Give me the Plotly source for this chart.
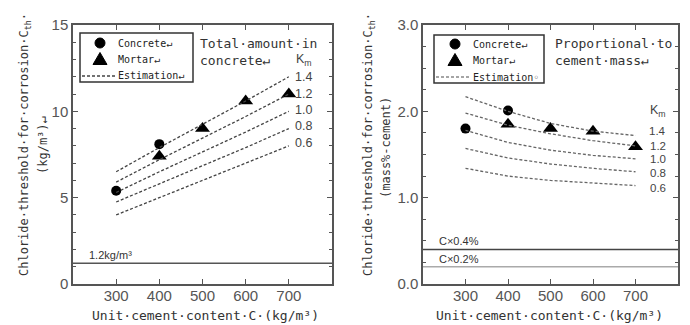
import plotly.graph_objects as go

# ---------------- data ----------------
cement = [300, 400, 500, 600, 700]
km_labels = ["1.4", "1.2", "1.0", "0.8", "0.6"]

# Left panel: total amount in concrete (kg/m3)
conc_x_L = [300, 400]
conc_y_L = [5.4, 8.1]
mort_x_L = [400, 500, 600, 700]
mort_y_L = [7.4, 9.0, 10.6, 11.0]
est_L = {
    "1.4": [6.5, 7.9, 9.25, 10.6, 12.0],
    "1.2": [5.9, 7.2, 8.45, 9.7, 11.0],
    "1.0": [5.3, 6.5, 7.65, 8.8, 10.0],
    "0.8": [4.75, 5.8, 6.85, 7.9, 9.0],
    "0.6": [4.0, 5.0, 6.0, 7.0, 8.0],
}
km_y_L = [12.0, 11.0, 10.08, 9.15, 8.15]

# Right panel: proportional to cement mass (mass%-cement)
conc_x_R = [300, 400]
conc_y_R = [1.80, 2.01]
mort_x_R = [400, 500, 600, 700]
mort_y_R = [1.85, 1.80, 1.77, 1.59]
est_R = {
    "1.4": [2.17, 2.00, 1.86, 1.77, 1.72],
    "1.2": [1.98, 1.84, 1.74, 1.66, 1.60],
    "1.0": [1.78, 1.64, 1.55, 1.49, 1.45],
    "0.8": [1.57, 1.46, 1.39, 1.34, 1.30],
    "0.6": [1.34, 1.25, 1.20, 1.17, 1.14],
}
km_y_R = [1.77, 1.60, 1.45, 1.29, 1.11]

ref_L = 1.2
ref_R_04 = 0.4
ref_R_02 = 0.2

# ---------------- figure ----------------
MONO = "DejaVu Sans Mono"
SANS = "Liberation Sans"
W, H = 690, 325
fig = go.Figure()


def px_x(p):
    return p / W


def px_y(p):
    return 1 - p / H


dom_L = [px_x(73), px_x(332)]
dom_R = [px_x(423), px_x(678)]
dom_Y = [px_y(284), px_y(25)]

# Left traces
fig.add_trace(go.Scatter(x=conc_x_L, y=conc_y_L, mode="markers", name="Concrete",
                         marker=dict(symbol="circle", size=10, color="black"),
                         xaxis="x", yaxis="y", showlegend=False))
fig.add_trace(go.Scatter(x=mort_x_L, y=mort_y_L, mode="markers", name="Mortar",
                         marker=dict(symbol="triangle-up", size=13, color="black"),
                         xaxis="x", yaxis="y", showlegend=False))
for i, k in enumerate(km_labels):
    fig.add_trace(go.Scatter(x=cement, y=est_L[k], mode="lines", name="Estimation Km=" + k,
                             line=dict(color="#444", width=1.3, dash="3px,2px"),
                             showlegend=False, xaxis="x", yaxis="y"))

# Right traces
fig.add_trace(go.Scatter(x=conc_x_R, y=conc_y_R, mode="markers", name="Concrete",
                         marker=dict(symbol="circle", size=10, color="black"),
                         xaxis="x2", yaxis="y2", showlegend=False))
fig.add_trace(go.Scatter(x=mort_x_R, y=mort_y_R, mode="markers", name="Mortar",
                         marker=dict(symbol="triangle-up", size=13, color="black"),
                         xaxis="x2", yaxis="y2", showlegend=False))
for i, k in enumerate(km_labels):
    fig.add_trace(go.Scatter(x=cement, y=est_R[k], mode="lines", name="Estimation Km=" + k,
                             line=dict(color="#666", width=1.3, dash="3px,2px"),
                             showlegend=False, xaxis="x2", yaxis="y2"))

shapes = []
# Reference lines
shapes.append(dict(type="line", xref="x", yref="y", x0=200, x1=800, y0=ref_L, y1=ref_L,
                   line=dict(color="#555", width=1.5)))
shapes.append(dict(type="line", xref="x2", yref="y2", x0=200, x1=800, y0=ref_R_04, y1=ref_R_04,
                   line=dict(color="#444", width=1.5)))
shapes.append(dict(type="line", xref="x2", yref="y2", x0=200, x1=800, y0=ref_R_02, y1=ref_R_02,
                   line=dict(color="#aaa", width=1.5)))

ann = []


# ---- hand-drawn legend boxes ----
def legend_box(x0, y0, x1, y1, mx, rows, lx0, lx1, tx, line_col, est_text):
    shapes.append(dict(type="rect", xref="paper", yref="paper",
                       x0=px_x(x0), x1=px_x(x1), y0=px_y(y1), y1=px_y(y0),
                       line=dict(color="#333", width=1.5), fillcolor="white", layer="above"))
    r1, r2, r3 = rows
    shapes.append(dict(type="circle", xref="paper", yref="paper",
                       x0=px_x(mx - 5), x1=px_x(mx + 5), y0=px_y(r1 + 5), y1=px_y(r1 - 5),
                       line=dict(color="black", width=1), fillcolor="black", layer="above"))
    path = "M %f %f L %f %f L %f %f Z" % (px_x(mx - 7), px_y(r2 + 5.5), px_x(mx + 7), px_y(r2 + 5.5),
                                          px_x(mx), px_y(r2 - 6.5))
    shapes.append(dict(type="path", xref="paper", yref="paper", path=path,
                       line=dict(color="black", width=1), fillcolor="black", layer="above"))
    shapes.append(dict(type="line", xref="paper", yref="paper", x0=px_x(lx0), x1=px_x(lx1),
                       y0=px_y(r3), y1=px_y(r3), line=dict(color=line_col, width=1.3, dash="3px,2px"),
                       layer="above"))
    lf = dict(family=MONO, size=10, color="#222")
    for txt, r in zip(["Concrete↵", "Mortar↵", est_text], rows):
        ann.append(dict(text=txt, xref="paper", yref="paper", x=px_x(tx), y=px_y(r),
                        xanchor="left", yanchor="middle", showarrow=False, font=lf))


legend_box(80, 33, 193, 82, 100, (43, 59, 76), 82, 115, 116, "#444", "Estimation↵")
legend_box(434, 35, 544, 83, 455, (44, 60, 77), 436, 469, 471, "#888", "Estimation◦")

axis_common = dict(showgrid=False, zeroline=False, showline=True, mirror="ticks",
                   linecolor="#555", linewidth=1.5, ticks="inside", tickcolor="#555",
                   ticklen=5, tickwidth=1, automargin=False,
                   tickfont=dict(family=SANS, size=15, color="#555"))

fig.update_layout(
    template="none",
    width=W, height=H, margin=dict(l=0, r=0, t=0, b=0, pad=0, autoexpand=False),
    plot_bgcolor="white", paper_bgcolor="white", showlegend=False,
    xaxis=dict(domain=dom_L, range=[200, 800], tickvals=cement, anchor="y",
               ticklabelstandoff=-3, **axis_common),
    yaxis=dict(domain=dom_Y, range=[0, 15], tickvals=[0, 5, 10, 15], anchor="x",
               minor=dict(dtick=1, ticks="inside", ticklen=3, tickcolor="#555"),
               **axis_common),
    xaxis2=dict(domain=dom_R, range=[200, 800], tickvals=cement, anchor="y2",
                ticklabelstandoff=-3, **axis_common),
    yaxis2=dict(domain=dom_Y, range=[0, 3], tickvals=[0, 1, 2, 3], ticktext=["0.0", "1.0", "2.0", "3.0"],
                anchor="x2", minor=dict(dtick=0.25, ticks="inside", ticklen=3, tickcolor="#555"),
                **axis_common),
)

tfont = dict(family=MONO, size=13, color="#333")
yfont = dict(family=MONO, size=12, color="#333")
# x titles
ann.append(dict(text="Unit·cement·content·C·(kg/m³)", xref="paper", yref="paper",
                x=px_x(205), y=px_y(315), xanchor="center", yanchor="middle",
                showarrow=False, font=tfont))
ann.append(dict(text="Unit·cement·content·C·(kg/m³)", xref="paper", yref="paper",
                x=px_x(549), y=px_y(315), xanchor="center", yanchor="middle",
                showarrow=False, font=tfont))
# y titles
ann.append(dict(text="Chloride·threshold·for·corrosion·C<sub>th</sub>·", xref="paper", yref="paper",
                x=px_x(25), y=px_y(145), xanchor="center", yanchor="middle",
                textangle=-90, showarrow=False, font=yfont))
ann.append(dict(text="(kg/m³)↵", xref="paper", yref="paper",
                x=px_x(43), y=px_y(145), xanchor="center", yanchor="middle",
                textangle=-90, showarrow=False, font=yfont))
ann.append(dict(text="Chloride·threshold·for·corrosion·C<sub>th</sub>·", xref="paper", yref="paper",
                x=px_x(369), y=px_y(145), xanchor="center", yanchor="middle",
                textangle=-90, showarrow=False, font=yfont))
ann.append(dict(text="(mass%-cement)", xref="paper", yref="paper",
                x=px_x(386), y=px_y(147), xanchor="center", yanchor="middle",
                textangle=-90, showarrow=False, font=yfont))
# panel titles
ann.append(dict(text="Total·amount·in<br>concrete↵", xref="paper", yref="paper", align="left",
                x=px_x(198), y=px_y(34), xanchor="left", yanchor="top", showarrow=False, font=tfont))
ann.append(dict(text="Proportional·to<br>cement·mass↵", xref="paper", yref="paper", align="left",
                x=px_x(553), y=px_y(34), xanchor="left", yanchor="top", showarrow=False, font=tfont))
# Km labels
kfont = dict(family=SANS, size=12.5, color="#444")
kfont_r = dict(family=SANS, size=11.5, color="#444")
ann.append(dict(text="K<sub>m</sub>", xref="x", yref="y", x=735, y=13.0, xanchor="center",
                yanchor="middle", showarrow=False, font=kfont))
for lab, yy in zip(km_labels, km_y_L):
    ann.append(dict(text=lab, xref="x", yref="y", x=735, y=yy, xanchor="center",
                    yanchor="middle", showarrow=False, font=kfont))
ann.append(dict(text="K<sub>m</sub>", xref="x2", yref="y2", x=752, y=2.0, xanchor="center",
                yanchor="middle", showarrow=False, font=kfont))
for lab, yy in zip(km_labels, km_y_R):
    ann.append(dict(text=lab, xref="x2", yref="y2", x=752, y=yy, xanchor="center",
                    yanchor="middle", showarrow=False, font=kfont_r))
# reference labels
rfont = dict(family=SANS, size=11, color="#333")
ann.append(dict(text="1.2kg/m³", xref="x", yref="y", x=232, y=ref_L, xanchor="left",
                yanchor="bottom", showarrow=False, font=rfont))
ann.append(dict(text="C×0.4%", xref="x2", yref="y2", x=232, y=ref_R_04, xanchor="left",
                yanchor="bottom", showarrow=False, font=rfont))
ann.append(dict(text="C×0.2%", xref="x2", yref="y2", x=232, y=ref_R_02, xanchor="left",
                yanchor="bottom", showarrow=False, font=rfont))
fig.update_layout(annotations=ann, shapes=shapes)

fig.write_html("out.html", config={"displayModeBar": False},
               post_script="document.body.style.margin='0px';document.body.style.overflow='hidden';")
